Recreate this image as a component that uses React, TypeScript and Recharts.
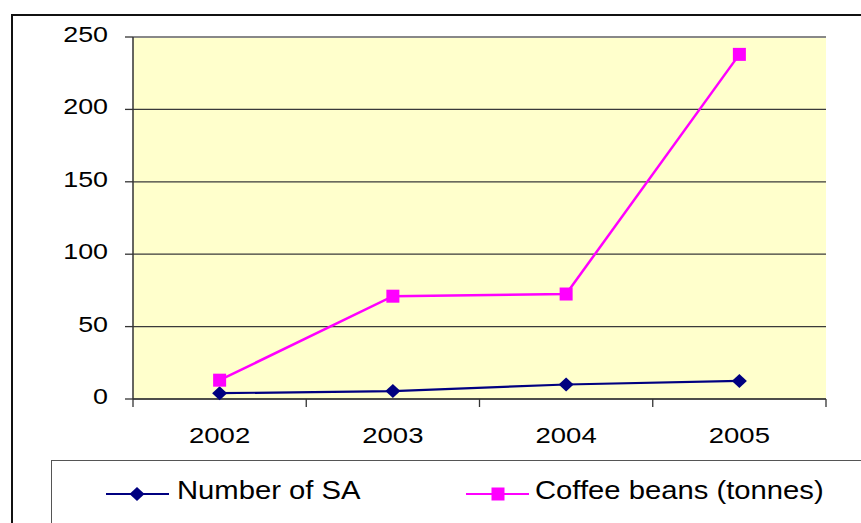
import {
  CartesianGrid,
  Legend,
  Line,
  LineChart,
  ReferenceLine,
  XAxis,
  YAxis
} from 'recharts'

const years = ['2002', '2003', '2004', '2005']
const saValues = [4, 5.5, 10, 12.5]
const coffeeValues = [13, 71, 72.5, 238]
const yTicks = [0, 50, 100, 150, 200, 250]

const chartData = years.map((year, i) => ({
  year,
  sa: saValues[i],
  coffee: coffeeValues[i]
}))

const font = '"Liberation Sans", Arial, sans-serif'
const navy = '#000080'
const magenta = '#FF00FF'

const Diamond = ({ cx, cy, fill }: { cx: number; cy: number; fill: string }) => (
  <path d={`M${cx},${cy - 7} L${cx + 7.5},${cy} L${cx},${cy + 7} L${cx - 7.5},${cy} Z`} fill={fill} />
)

const Square = ({ cx, cy, fill }: { cx: number; cy: number; fill: string }) => (
  <rect x={cx - 6.5} y={cy - 6.5} width={13} height={13} fill={fill} />
)

const YTick = ({ x, y, payload }: any) => (
  <text
    transform={`translate(${x},${y}) scale(1.22,1)`}
    textAnchor="end"
    dy={5}
    fontSize={22}
    fontFamily={font}
    fill="#000"
  >
    {payload.value}
  </text>
)

// category label in the middle of its band, tick marks on the band edges
const XTick = ({ x, y, payload, index, visibleTicksCount }: any) => {
  const half = payload.offset || 0
  const last = index === visibleTicksCount - 1
  return (
    <g>
      <line x1={x - half} x2={x - half} y1={y} y2={y + 8} stroke="#333" strokeWidth={1.3} />
      {last && <line x1={x + half} x2={x + half} y1={y} y2={y + 8} stroke="#333" strokeWidth={1.3} />}
      <text
        transform={`translate(${x},${y}) scale(1.25,1)`}
        textAnchor="middle"
        dy={44}
        fontSize={22}
        fontFamily={font}
        fill="#000"
      >
        {payload.value}
      </text>
    </g>
  )
}

const LegendBox = () => (
  <svg width={830} height={62} style={{ display: 'block' }}>
    <line x1={54} x2={117} y1={33} y2={33} stroke={navy} strokeWidth={2} />
    <Diamond cx={85} cy={33} fill={navy} />
    <text transform="translate(125,38) scale(1.17,1)" fontSize={25} fontFamily={font} fill="#000">
      Number of SA
    </text>
    <line x1={414} x2={477} y1={33} y2={33} stroke={magenta} strokeWidth={2} />
    <Square cx={446} cy={33} fill={magenta} />
    <text transform="translate(483,38) scale(1.17,1)" fontSize={25} fontFamily={font} fill="#000">
      Coffee beans (tonnes)
    </text>
  </svg>
)

export default function App() {
  return (
    <div style={{ position: 'absolute', left: 0, top: 0, width: 861, height: 523, overflow: 'hidden', background: '#fff' }}>
      <div
        style={{
          position: 'absolute',
          left: 11,
          top: 14,
          width: 900,
          height: 600,
          border: '2px solid #111'
        }}
      />
      <div style={{ position: 'absolute', left: 0, top: 0 }}>
        <LineChart width={861} height={523} data={chartData} margin={{ top: 37, right: 35, left: 0, bottom: 64 }}>
          <CartesianGrid vertical={false} fill="#FFFFCC" stroke="#3a3a3a" strokeWidth={1.2} />
          <XAxis
            dataKey="year"
            scale="band"
            height={60}
            tickSize={0}
            tickMargin={0}
            tickLine={false}
            interval={0}
            axisLine={{ stroke: '#333', strokeWidth: 1.5 }}
            tick={<XTick />}
          />
          <YAxis
            width={133}
            domain={[0, 250]}
            ticks={yTicks}
            tickSize={8}
            tickMargin={17}
            axisLine={{ stroke: '#333', strokeWidth: 1.5 }}
            tickLine={{ stroke: '#333', strokeWidth: 1.3 }}
            tick={<YTick />}
          />
          <YAxis
            yAxisId="border"
            orientation="right"
            width={0}
            domain={[0, 250]}
            tick={false}
            tickLine={false}
            axisLine={{ stroke: '#888', strokeWidth: 2 }}
          />
          <ReferenceLine y={250} stroke="#888" strokeWidth={2} />
          <Line
            dataKey="sa"
            name="Number of SA"
            stroke={navy}
            strokeWidth={2.2}
            isAnimationActive={false}
            dot={(p: any) => <Diamond key={`sa-${p.index}`} cx={p.cx} cy={p.cy} fill={navy} />}
            activeDot={false}
          />
          <Line
            dataKey="coffee"
            name="Coffee beans (tonnes)"
            stroke={magenta}
            strokeWidth={2.5}
            isAnimationActive={false}
            dot={(p: any) => <Square key={`cf-${p.index}`} cx={p.cx} cy={p.cy} fill={magenta} />}
            activeDot={false}
          />
          <Legend
            layout="horizontal"
            verticalAlign="middle"
            align="center"
            content={() => <LegendBox />}
            wrapperStyle={{
              left: 51,
              top: 460,
              width: 830,
              height: 62,
              border: '1px solid #555',
              borderBottom: '1px solid #ddd',
              background: '#fff'
            }}
          />
        </LineChart>
      </div>
    </div>
  )
}
